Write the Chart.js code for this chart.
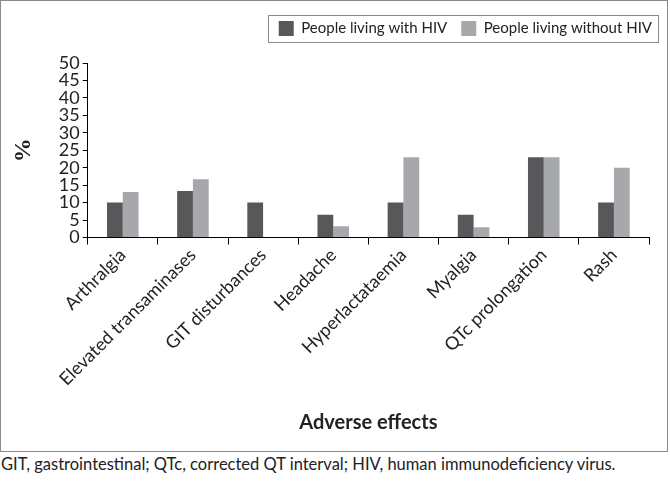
<!DOCTYPE html>
<html>
<head>
<meta charset="utf-8">
<script src="https://cdn.jsdelivr.net/npm/chart.js@4/dist/chart.umd.min.js"></script>
<style>
  body { margin: 0; background: #fff; font-family: Lato, sans-serif; }
  #cadre { position: absolute; left: 0; top: 0; width: 666px; height: 450px; border: 1px solid #8a8a8a; }
  #note { position: absolute; left: 1px; top: 454px; font-size: 16.5px; color: #222; white-space: nowrap; }
</style>
</head>
<body>
<div id="cadre"><canvas id="graphique" width="666" height="450"></canvas></div>
<div id="note">GIT, gastrointestinal; QTc, corrected QT interval; HIV, human immunodeficiency virus.</div>
<script>
// données (%)
const effets = ['Arthralgia', 'Elevated transaminases', 'GIT disturbances', 'Headache',
  'Hyperlactataemia', 'Myalgia', 'QTc prolongation', 'Rash'];
const avecVIH = [10, 13.3, 10, 6.5, 10, 6.5, 23, 10];
const sansVIH = [13, 16.7, 0, 3.2, 23, 2.9, 23, 20];
const graduations = [0, 5, 10, 15, 20, 25, 30, 35, 40, 45, 50];

// cadre autour de la légende + espace sous la légende
const cadreLegende = {
  id: 'cadreLegende',
  beforeInit(chart) {
    const fitOrig = chart.legend.fit;
    chart.legend.fit = function () {
      fitOrig.call(this);
      this.height += 17;
    };
  },
  afterDraw(chart) {
    const boxes = chart.legend.legendHitBoxes;
    if (!boxes || !boxes.length) return;
    const ctx = chart.ctx;
    const x1 = boxes[0].left - 11;
    const last = boxes[boxes.length - 1];
    const x2 = last.left + last.width + 6;
    const y1 = boxes[0].top - 6;
    const y2 = boxes[0].top + boxes[0].height + 6;
    ctx.save();
    ctx.strokeStyle = '#8a8a8a';
    ctx.lineWidth = 1;
    ctx.strokeRect(Math.round(x1) + 0.5, Math.round(y1) + 0.5, Math.round(x2 - x1), Math.round(y2 - y1));
    ctx.restore();
  }
};

new Chart(document.getElementById('graphique'), {
  type: 'bar',
  data: {
    labels: effets,
    datasets: [
      { label: 'People living with HIV', data: avecVIH, backgroundColor: '#58585a',
        categoryPercentage: 0.45, barPercentage: 1 },
      { label: 'People living without HIV', data: sansVIH, backgroundColor: '#a7a8ab',
        categoryPercentage: 0.45, barPercentage: 1 }
    ]
  },
  options: {
    responsive: false,
    animation: false,
    layout: { padding: { left: 8, right: 1, top: 6, bottom: 16 } },
    plugins: {
      legend: {
        position: 'top',
        align: 'end',
        labels: {
          boxWidth: 15, boxHeight: 15, padding: 14,
          color: '#222',
          font: { family: 'Lato', size: 15 }
        }
      },
      tooltip: { enabled: false }
    },
    scales: {
      x: {
        grid: { drawOnChartArea: false, drawTicks: true, tickLength: 7, color: '#000', offset: true },
        border: { display: true, color: '#000', width: 1 },
        ticks: {
          maxRotation: 45, minRotation: 45, autoSkip: false,
          color: '#222', font: { family: 'Lato', size: 18 }, padding: 0
        },
        title: {
          display: true, text: 'Adverse effects', color: '#222',
          font: { family: 'Lato', size: 20, weight: 'bold' },
          padding: { top: 21, bottom: 0 }
        }
      },
      y: {
        min: 0, max: 50,
        afterBuildTicks(axis) { axis.ticks = graduations.map(v => ({ value: v })); },
        grid: { drawOnChartArea: false, drawTicks: true, tickLength: 5, color: '#000' },
        border: { display: true, color: '#000', width: 1 },
        ticks: { autoSkip: false, color: '#222', font: { family: 'Lato', size: 18, lineHeight: 1 }, padding: 3 },
        title: {
          display: true, text: '%', color: '#222',
          font: { family: 'Liberation Serif', size: 24, weight: 'bold' },
          padding: { top: 0, bottom: 18 }
        }
      },
      // marge droite de la zone de tracé (axe invisible)
      marge: {
        position: 'right',
        display: true,
        grid: { display: false },
        border: { display: false },
        ticks: { display: false },
        afterFit(s) { s.width = 17; }
      }
    }
  },
  plugins: [cadreLegende]
});
</script>
</body>
</html>
